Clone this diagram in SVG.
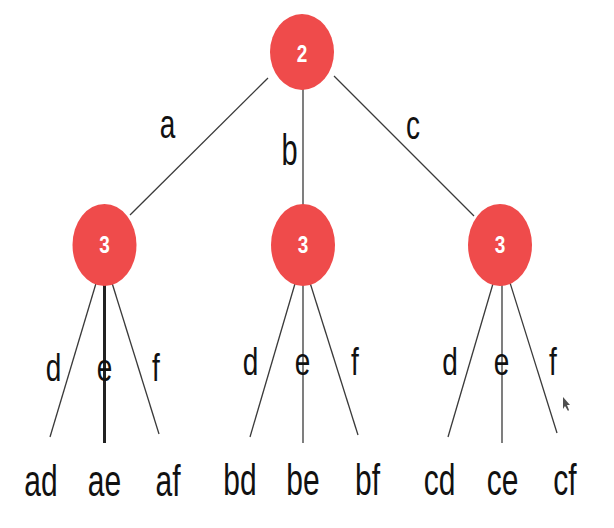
<svg xmlns="http://www.w3.org/2000/svg" width="614" height="528" viewBox="0 0 614 528">
<style>
.edge{stroke:#3a3a3a;stroke-width:1.3;fill:none}
.thick{stroke:#222;stroke-width:3;fill:none}
.node{fill:#EF4B4B}
.num{font-family:"Liberation Sans",Arial,sans-serif;font-weight:bold;font-size:19px;fill:#fff;text-anchor:middle}
.lbl{font-family:"Liberation Sans",Arial,sans-serif;fill:#111;text-anchor:middle}
</style>
<rect width="614" height="528" fill="#fff"/>
<g id="connectors">
<line class="edge" x1="268" y1="78" x2="130" y2="215"/>
<line class="edge" x1="303" y1="88" x2="303" y2="208"/>
<line class="edge" x1="334" y1="76" x2="474" y2="216"/>
<line class="edge" x1="100" y1="270" x2="50" y2="437"/>
<line class="thick" x1="104.5" y1="270" x2="104.5" y2="443"/>
<line class="edge" x1="108" y1="270" x2="159" y2="434"/>
<line class="edge" x1="299" y1="270" x2="250" y2="437"/>
<line class="edge" x1="303" y1="270" x2="303" y2="443"/>
<line class="edge" x1="306" y1="270" x2="358" y2="435"/>
<line class="edge" x1="497" y1="270" x2="448" y2="437"/>
<line class="edge" x1="502" y1="270" x2="502" y2="443"/>
<line class="edge" x1="506" y1="270" x2="557" y2="433"/>
</g>
<g id="edge-labels">
<text class="lbl" font-size="28" transform="translate(167.5,138) scale(1,1.45)">a</text>
<text class="lbl" font-size="29" transform="translate(289.5,165) scale(1,1.55)">b</text>
<text class="lbl" font-size="28" transform="translate(413,139) scale(1,1.45)">c</text>
<text class="lbl" font-size="28" transform="translate(53.5,381) scale(1,1.38)">d</text>
<text class="lbl" font-size="28" transform="translate(104.5,381) scale(1,1.38)">e</text>
<text class="lbl" font-size="28" transform="translate(156,381) scale(1,1.38)">f</text>
<text class="lbl" font-size="28" transform="translate(250.5,375) scale(1,1.38)">d</text>
<text class="lbl" font-size="28" transform="translate(302.5,375) scale(1,1.38)">e</text>
<text class="lbl" font-size="28" transform="translate(355,375) scale(1,1.38)">f</text>
<text class="lbl" font-size="28" transform="translate(450,375) scale(1,1.38)">d</text>
<text class="lbl" font-size="28" transform="translate(501.5,375) scale(1,1.38)">e</text>
<text class="lbl" font-size="28" transform="translate(553,375) scale(1,1.38)">f</text>
</g>
<g id="root">
<ellipse class="node" cx="302" cy="52" rx="32" ry="38"/>
<text class="num" transform="translate(302,62) scale(1,1.3)">2</text>
</g>
<g id="node-a">
<ellipse class="node" cx="104.5" cy="245" rx="32" ry="41"/>
<text class="num" transform="translate(104.5,253) scale(1,1.3)">3</text>
</g>
<g id="node-b">
<ellipse class="node" cx="303" cy="245" rx="32" ry="41"/>
<text class="num" transform="translate(303,253) scale(1,1.3)">3</text>
</g>
<g id="node-c">
<ellipse class="node" cx="500" cy="245" rx="32" ry="41"/>
<text class="num" transform="translate(500,253) scale(1,1.3)">3</text>
</g>
<g id="leaf-ad"><text class="lbl" font-size="30" transform="translate(41,496) scale(1,1.5)">ad</text></g>
<g id="leaf-ae"><text class="lbl" font-size="30" transform="translate(104.5,496) scale(1,1.5)">ae</text></g>
<g id="leaf-af"><text class="lbl" font-size="30" transform="translate(168,496) scale(1,1.5)">af</text></g>
<g id="leaf-bd"><text class="lbl" font-size="30" transform="translate(240,495) scale(1,1.5)">bd</text></g>
<g id="leaf-be"><text class="lbl" font-size="30" transform="translate(303,495) scale(1,1.5)">be</text></g>
<g id="leaf-bf"><text class="lbl" font-size="30" transform="translate(367.5,495) scale(1,1.5)">bf</text></g>
<g id="leaf-cd"><text class="lbl" font-size="30" transform="translate(439.5,495) scale(1,1.5)">cd</text></g>
<g id="leaf-ce"><text class="lbl" font-size="30" transform="translate(502.5,495) scale(1,1.5)">ce</text></g>
<g id="leaf-cf"><text class="lbl" font-size="30" transform="translate(565,495) scale(1,1.5)">cf</text></g>
<polygon points="563,397 563,409 565,406 568,411 569,410 567,405 570,405" fill="#222" opacity="0.8"/>
</svg>
